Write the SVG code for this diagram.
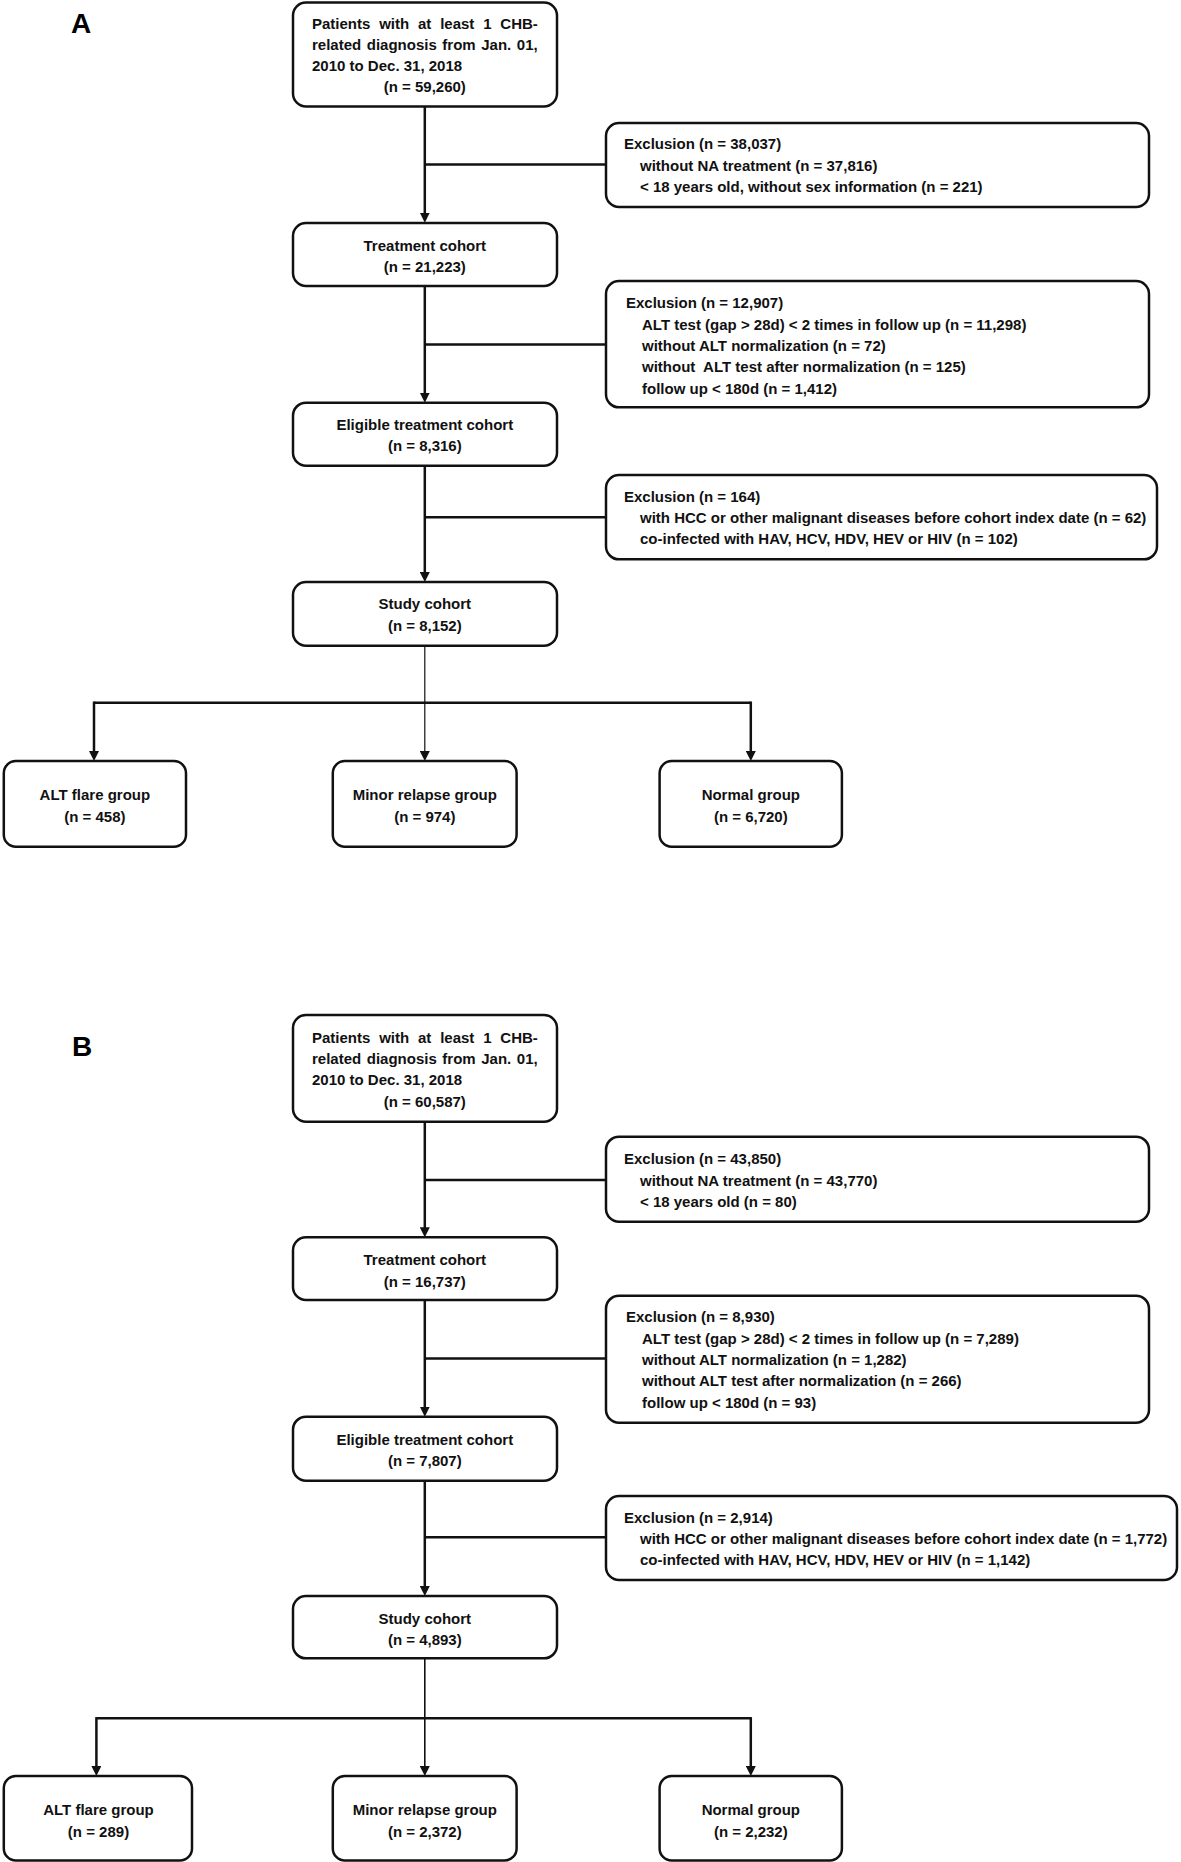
<svg xmlns="http://www.w3.org/2000/svg" width="1181" height="1862" viewBox="0 0 1181 1862">
<style>
.bg{fill:#fff}
.box{fill:#fff;stroke:#111;stroke-width:2.5}
.t{font-family:"Liberation Sans",Arial,sans-serif;font-weight:bold;font-size:15px;fill:#111}
.c{text-anchor:middle}
.lbl{font-family:"Liberation Sans",Arial,sans-serif;font-weight:bold;font-size:28px;fill:#000}
.ln{fill:none;stroke:#111;stroke-width:2.5}
.thin{fill:none;stroke:#111;stroke-width:1.2}
.mid{fill:none;stroke:#111;stroke-width:1.6}
.pre{white-space:pre}
</style>
<defs>
<marker id="ah" markerUnits="userSpaceOnUse" markerWidth="10" markerHeight="10" viewBox="0 0 10 10" refX="1" refY="5" orient="auto">
<path d="M0,0 L10,5 L0,10 z" fill="#111"/>
</marker>
</defs>
<rect class="bg" x="0" y="0" width="1181" height="1862"/>

<text class="lbl" x="71" y="33">A</text>
<text class="lbl" x="72" y="1056">B</text>

<g id="connectors">
<!-- Panel A -->
<path class="ln" d="M424.8,106.5 V213.7" marker-end="url(#ah)"/>
<path class="ln" d="M424.8,164.5 H606"/>
<path class="ln" d="M424.8,286 V393.7" marker-end="url(#ah)"/>
<path class="ln" d="M424.8,344.5 H606"/>
<path class="ln" d="M424.8,465.7 V573" marker-end="url(#ah)"/>
<path class="ln" d="M424.8,517.3 H606"/>
<path class="thin" d="M424.8,645.7 V752" marker-end="url(#ah)"/>
<path class="ln" d="M94,702.7 H750.8"/>
<path class="ln" d="M94,701.5 V752" marker-end="url(#ah)"/>
<path class="ln" d="M750.8,701.5 V752" marker-end="url(#ah)"/>
<!-- Panel B -->
<path class="ln" d="M424.8,1121.7 V1228.3" marker-end="url(#ah)"/>
<path class="ln" d="M424.8,1180 H606"/>
<path class="ln" d="M424.8,1300 V1407.7" marker-end="url(#ah)"/>
<path class="ln" d="M424.8,1358.5 H606"/>
<path class="ln" d="M424.8,1480.7 V1587" marker-end="url(#ah)"/>
<path class="ln" d="M424.8,1537.3 H606"/>
<path class="mid" d="M424.8,1658.3 V1767" marker-end="url(#ah)"/>
<path class="ln" d="M96.4,1718.3 H750.8"/>
<path class="ln" d="M96.4,1717.1 V1767" marker-end="url(#ah)"/>
<path class="ln" d="M750.8,1717.1 V1767" marker-end="url(#ah)"/>
</g>

<!-- Panel A nodes -->
<g id="a-patients">
<rect class="box" x="293" y="2.5" width="264" height="104" rx="13"/>
<text class="t" x="312" y="28.5" word-spacing="4.66">Patients with at least 1 CHB-</text>
<text class="t" x="312" y="49.8" word-spacing="1.4">related diagnosis from Jan. 01,</text>
<text class="t" x="312" y="71.1">2010 to Dec. 31, 2018</text>
<text class="t c" x="424.8" y="92.4">(n = 59,260)</text>
</g>
<g id="a-excl1">
<rect class="box" x="606" y="123" width="543" height="84" rx="13"/>
<text class="t" x="624" y="149.3">Exclusion (n = 38,037)</text>
<text class="t" x="640" y="170.7">without NA treatment (n = 37,816)</text>
<text class="t" x="640" y="192">&lt; 18 years old, without sex information (n = 221)</text>
</g>
<g id="a-treatment">
<rect class="box" x="293" y="223" width="264" height="63" rx="13"/>
<text class="t c" x="424.8" y="250.7">Treatment cohort</text>
<text class="t c" x="424.8" y="271.9">(n = 21,223)</text>
</g>
<g id="a-excl2">
<rect class="box" x="606" y="281" width="543" height="126.3" rx="13"/>
<text class="t" x="626" y="308.3">Exclusion (n = 12,907)</text>
<text class="t" x="642" y="329.7">ALT test (gap &gt; 28d) &lt; 2 times in follow up (n = 11,298)</text>
<text class="t" x="642" y="351">without ALT normalization (n = 72)</text>
<text class="t pre" x="642" y="372.3">without  ALT test after normalization (n = 125)</text>
<text class="t" x="642" y="393.7">follow up &lt; 180d (n = 1,412)</text>
</g>
<g id="a-eligible">
<rect class="box" x="293" y="402.7" width="264" height="63" rx="13"/>
<text class="t c" x="424.8" y="430">Eligible treatment cohort</text>
<text class="t c" x="424.8" y="451.2">(n = 8,316)</text>
</g>
<g id="a-excl3">
<rect class="box" x="606" y="475" width="551" height="84.3" rx="13"/>
<text class="t" x="624" y="501.7">Exclusion (n = 164)</text>
<text class="t" x="640" y="523">with HCC or other malignant diseases before cohort index date (n = 62)</text>
<text class="t" x="640" y="544.3">co-infected with HAV, HCV, HDV, HEV or HIV (n = 102)</text>
</g>
<g id="a-study">
<rect class="box" x="293" y="582" width="264" height="63.7" rx="13"/>
<text class="t c" x="424.8" y="609.3">Study cohort</text>
<text class="t c" x="424.8" y="630.7">(n = 8,152)</text>
</g>
<g id="a-flare">
<rect class="box" x="3.8" y="761" width="182.2" height="85.7" rx="12"/>
<text class="t c" x="94.9" y="800">ALT flare group</text>
<text class="t c" x="94.9" y="821.7">(n = 458)</text>
</g>
<g id="a-minor">
<rect class="box" x="332.8" y="761" width="183.8" height="85.7" rx="12"/>
<text class="t c" x="424.8" y="800">Minor relapse group</text>
<text class="t c" x="424.8" y="821.7">(n = 974)</text>
</g>
<g id="a-normal">
<rect class="box" x="659.6" y="761" width="182.3" height="85.7" rx="12"/>
<text class="t c" x="750.8" y="800">Normal group</text>
<text class="t c" x="750.8" y="821.7">(n = 6,720)</text>
</g>

<!-- Panel B nodes -->
<g id="b-patients">
<rect class="box" x="293" y="1015" width="264" height="106.7" rx="13"/>
<text class="t" x="312" y="1042.7" word-spacing="4.66">Patients with at least 1 CHB-</text>
<text class="t" x="312" y="1064" word-spacing="1.4">related diagnosis from Jan. 01,</text>
<text class="t" x="312" y="1085.3">2010 to Dec. 31, 2018</text>
<text class="t c" x="424.8" y="1106.7">(n = 60,587)</text>
</g>
<g id="b-excl1">
<rect class="box" x="606" y="1136.7" width="543" height="85" rx="13"/>
<text class="t" x="624" y="1164.3">Exclusion (n = 43,850)</text>
<text class="t" x="640" y="1185.7">without NA treatment (n = 43,770)</text>
<text class="t" x="640" y="1207">&lt; 18 years old (n = 80)</text>
</g>
<g id="b-treatment">
<rect class="box" x="293" y="1237.3" width="264" height="62.7" rx="13"/>
<text class="t c" x="424.8" y="1265.3">Treatment cohort</text>
<text class="t c" x="424.8" y="1286.5">(n = 16,737)</text>
</g>
<g id="b-excl2">
<rect class="box" x="606" y="1295.7" width="543" height="127" rx="13"/>
<text class="t" x="626" y="1322.3">Exclusion (n = 8,930)</text>
<text class="t" x="642" y="1343.7">ALT test (gap &gt; 28d) &lt; 2 times in follow up (n = 7,289)</text>
<text class="t" x="642" y="1365">without ALT normalization (n = 1,282)</text>
<text class="t" x="642" y="1386.3">without ALT test after normalization (n = 266)</text>
<text class="t" x="642" y="1407.7">follow up &lt; 180d (n = 93)</text>
</g>
<g id="b-eligible">
<rect class="box" x="293" y="1416.7" width="264" height="64" rx="13"/>
<text class="t c" x="424.8" y="1445">Eligible treatment cohort</text>
<text class="t c" x="424.8" y="1466.2">(n = 7,807)</text>
</g>
<g id="b-excl3">
<rect class="box" x="606" y="1496" width="571" height="84" rx="13"/>
<text class="t" x="624" y="1522.7">Exclusion (n = 2,914)</text>
<text class="t" x="640" y="1544">with HCC or other malignant diseases before cohort index date (n = 1,772)</text>
<text class="t" x="640" y="1565.3">co-infected with HAV, HCV, HDV, HEV or HIV (n = 1,142)</text>
</g>
<g id="b-study">
<rect class="box" x="293" y="1596" width="264" height="62.3" rx="13"/>
<text class="t c" x="424.8" y="1624">Study cohort</text>
<text class="t c" x="424.8" y="1645.3">(n = 4,893)</text>
</g>
<g id="b-flare">
<rect class="box" x="3.8" y="1776" width="188.2" height="84.5" rx="12"/>
<text class="t c" x="98.5" y="1815">ALT flare group</text>
<text class="t c" x="98.5" y="1836.7">(n = 289)</text>
</g>
<g id="b-minor">
<rect class="box" x="332.8" y="1776" width="183.8" height="84.5" rx="12"/>
<text class="t c" x="424.8" y="1815">Minor relapse group</text>
<text class="t c" x="424.8" y="1836.7">(n = 2,372)</text>
</g>
<g id="b-normal">
<rect class="box" x="659.6" y="1776" width="182.3" height="84.5" rx="12"/>
<text class="t c" x="750.8" y="1815">Normal group</text>
<text class="t c" x="750.8" y="1836.7">(n = 2,232)</text>
</g>
</svg>
